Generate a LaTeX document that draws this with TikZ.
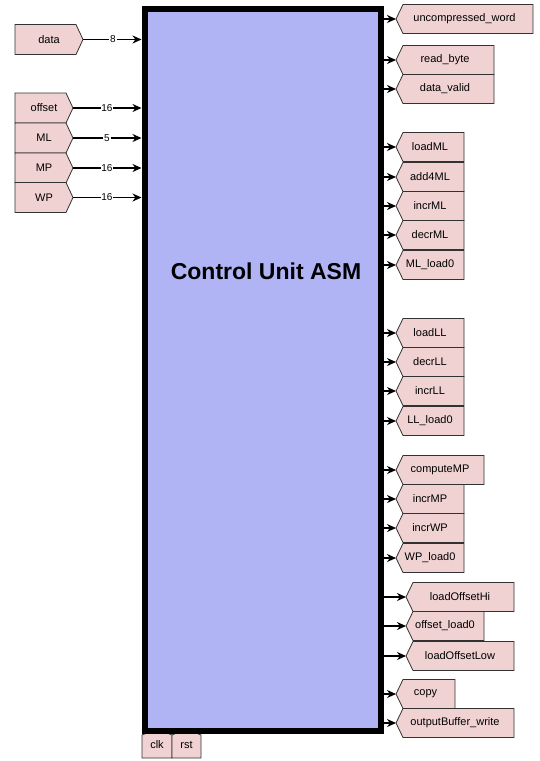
\documentclass[tikz,border=0pt]{standalone}
\usepackage{fontspec}
\setmainfont{Liberation Sans}
\usetikzlibrary{arrows.meta}
\definecolor{blockblue}{RGB}{176,180,245}
\definecolor{portpink}{RGB}{240,210,210}
\definecolor{portline}{RGB}{50,50,50}
\tikzset{
  portshape/.style={draw=portline, fill=portpink, line width=0.8pt, line join=miter},
  porttext/.style={font=\fontsize{11}{13}\selectfont, inner sep=0pt},
  sig/.style={-{Stealth[length=9pt,width=8pt]}, line width=1.5pt},
  buslabel/.style={font=\fontsize{10}{11}\selectfont, fill=white, inner sep=0.8pt},
  cublock/.style={draw=black, fill=blockblue, line width=6.5pt, minimum width=236pt, minimum height=722pt, inner sep=0pt, anchor=north west},
}
% name, y, tip x, right x, text
\newcommand\OutPort[5]{%
  \draw[portshape] (#3,#2) -- (#3+7,#2-14.5) -- (#4,#2-14.5) -- (#4,#2+14.5) -- (#3+7,#2+14.5) -- cycle;
  \coordinate (#1) at (#3,#2);
  \node[porttext] (#1-t) at ({(#3+#4)/2},#2) {#5};
  \draw[sig] (cu.east |- #1) -- (#1);
}
% name, y, tip x, text, bus label, label x, half height
\newcommand\InPort[7]{%
  \draw[portshape] (15,#2-#7) -- (#3-7,#2-#7) -- (#3,#2) -- (#3-7,#2+#7) -- (15,#2+#7) -- cycle;
  \coordinate (#1) at (#3,#2);
  \node[porttext] (#1-t) at ({(15+#3)/2},#2) {#4};
  \draw[sig] (#1) -- (cu.west |- #1);
  \node[buslabel] (#1-w) at (#6,#2) {#5};
}
\begin{document}
\begin{tikzpicture}[x=1pt,y=-1pt]
\useasboundingbox (0,0) rectangle (540,761);
% clk / rst
\draw[portshape] (142,758) -- (142,735) -- (157,729) -- (172,735) -- (172,758) -- cycle;
\node[porttext] (clk) at (157,745) {clk};
\draw[portshape] (172,758) -- (172,735) -- (186.5,729) -- (201,735) -- (201,758) -- cycle;
\node[porttext] (rst) at (186.5,745) {rst};
% block
\node[cublock] (cu) at (141.5,5.5) {};
\node[font=\bfseries\fontsize{23}{26}\selectfont] (title) at (266,271) {Control Unit ASM};
% inputs
\InPort{data}{39.5}{83}{data}{8}{113}{15}
\InPort{offset}{108}{73}{offset}{16}{107}{15}
\InPort{ML}{138}{73}{ML}{5}{107}{15}
\InPort{MP}{168}{73}{MP}{16}{107}{15}
\InPort{WP}{197.5}{73}{WP}{16}{107}{15}
% outputs
\OutPort{uw}{19}{396}{533}{uncompressed\_word}
\OutPort{rb}{60}{396}{494}{read\_byte}
\OutPort{dv}{89}{396}{494}{data\_valid}
\OutPort{lml}{147}{396}{464}{loadML}
\OutPort{aml}{177}{396}{464}{add4ML}
\OutPort{iml}{206}{396}{464}{incrML}
\OutPort{dml}{235}{396}{464}{decrML}
\OutPort{mlz}{265}{396}{464}{ML\_load0}
\OutPort{lll}{333}{396}{464}{loadLL}
\OutPort{dll}{362}{396}{464}{decrLL}
\OutPort{ill}{391}{396}{464}{incrLL}
\OutPort{llz}{421}{396}{464}{LL\_load0}
\OutPort{cmp}{470}{396}{484}{computeMP}
\OutPort{imp}{499}{396}{464}{incrMP}
\OutPort{iwp}{528}{396}{464}{incrWP}
\OutPort{wpz}{558}{396}{464}{WP\_load0}
\OutPort{loh}{597}{406}{514}{loadOffsetHi}
\OutPort{olz}{626}{406}{484}{offset\_load0}
\OutPort{lol}{656}{406}{514}{loadOffsetLow}
\OutPort{cpy}{694}{396}{455}{copy}
\OutPort{obw}{723}{396}{514}{outputBuffer\_write}
\end{tikzpicture}
\end{document}
